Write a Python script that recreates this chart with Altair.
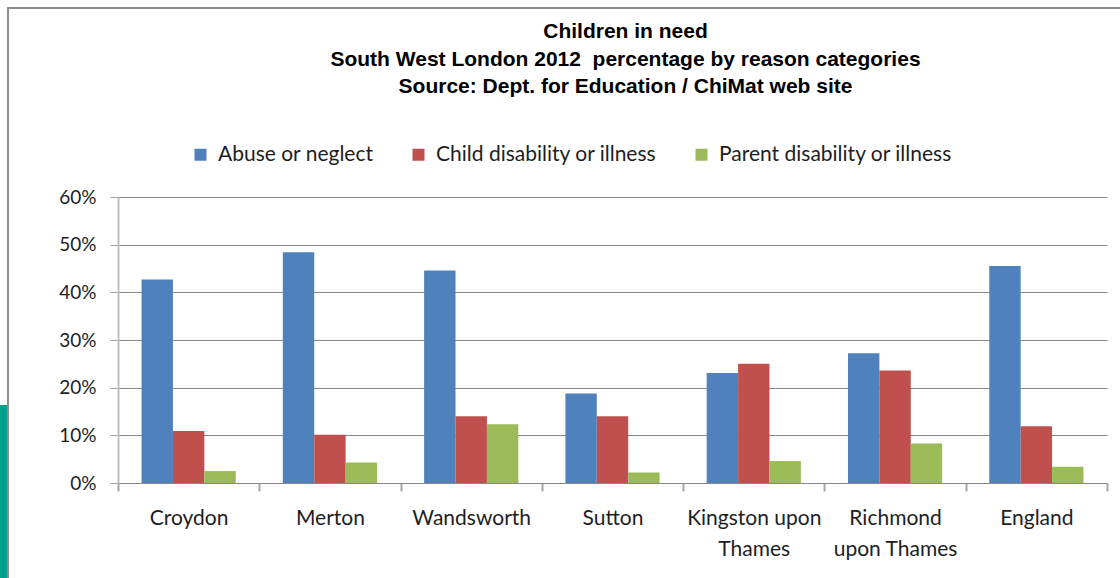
import altair as alt
import pandas as pd

# Children in need, South West London 2012: share of cases by reason category
areas = ["Croydon", "Merton", "Wandsworth", "Sutton",
         "Kingston upon Thames", "Richmond upon Thames", "England"]
reasons = ["Abuse or neglect", "Child disability or illness",
           "Parent disability or illness"]
abuse_or_neglect = [0.427, 0.484, 0.446, 0.188, 0.231, 0.272, 0.455]
child_disability = [0.109, 0.101, 0.140, 0.140, 0.250, 0.236, 0.119]
parent_disability = [0.025, 0.043, 0.123, 0.022, 0.046, 0.083, 0.034]
reason_colors = ["#4F81BD", "#C0504D", "#9BBB59"]
pct_ticks = [0.0, 0.1, 0.2, 0.3, 0.4, 0.5, 0.6]

# two-line axis labels for the long area names
wrapped = {
    "Kingston upon Thames": ["Kingston upon", "Thames"],
    "Richmond upon Thames": ["Richmond", "upon Thames"],
}

rows = []
for series, values in zip(reasons, [abuse_or_neglect, child_disability, parent_disability]):
    for area, v in zip(areas, values):
        rows.append({"area": area, "reason": series, "share": v})
df = pd.DataFrame(rows)

label_expr = "datum.label"
for name, lines in wrapped.items():
    arr = "[" + ", ".join("'" + s + "'" for s in lines) + "]"
    label_expr = f"datum.label == '{name}' ? {arr} : ({label_expr})"

W, H = 989, 286
PAD_L, PAD_T = 118, 197

bars = alt.Chart(df).mark_bar().encode(
    x=alt.X("area:N", sort=areas,
            scale=alt.Scale(paddingInner=0, paddingOuter=0),
            axis=alt.Axis(title=None, labelAngle=0, tickBand="extent",
                          tickSize=8, tickColor="#a6a6a6", tickWidth=2,
                          domainColor="#878787", domainWidth=1,
                          labelFont="Lato", labelFontSize=21,
                          labelColor="#1e1e1e", labelLineHeight=31,
                          labelPadding=16, labelExpr=label_expr)),
    xOffset=alt.XOffset("reason:N", sort=reasons,
                        scale=alt.Scale(paddingInner=0, paddingOuter=0.75)),
    y=alt.Y("share:Q",
            scale=alt.Scale(domain=[0, 0.6], nice=False),
            axis=alt.Axis(title=None, values=pct_ticks, format=".0%",
                          labelFont="Lato", labelFontSize=19,
                          labelColor="#1e1e1e", labelPadding=14,
                          tickSize=8, tickColor="#a0a0a0",
                          domainColor="#bfbfbf", domainWidth=2,
                          gridColor="#878787", gridWidth=1)),
    color=alt.Color("reason:N", sort=reasons,
                    scale=alt.Scale(domain=reasons, range=reason_colors),
                    legend=alt.Legend(title=None, orient="none",
                                      direction="horizontal",
                                      legendX=72, legendY=-53,
                                      symbolType="square", symbolSize=144,
                                      symbolStrokeWidth=0,
                                      labelFont="Lato", labelFontSize=21,
                                      labelColor="#1e1e1e", labelOffset=7,
                                      labelLimit=500, columnPadding=34)),
)

# outer frame and the teal strip at the left edge
frame = alt.Chart(pd.DataFrame({"k": [0]})).mark_rect(
    fill=None, stroke="#8c8c8c", strokeWidth=2
).encode(x=alt.value(8 - PAD_L), x2=alt.value(1140 - PAD_L),
         y=alt.value(8 - PAD_T), y2=alt.value(600 - PAD_T))

strip = alt.Chart(pd.DataFrame({"k": [0]})).mark_rect(
    fill="#00A08A"
).encode(x=alt.value(-PAD_L), x2=alt.value(7 - PAD_L),
         y=alt.value(405 - PAD_T), y2=alt.value(600 - PAD_T))

# the frame sits above the title, so the title is pulled back down past it
chart = alt.layer(strip, frame, bars).properties(
    width=W, height=H,
    title=alt.Title(
        ["Children in need",
         "South West London 2012\u00a0 percentage by reason categories",
         "Source: Dept. for Education / ChiMat web site"],
        font="Liberation Sans", fontSize=21, fontWeight="bold",
        lineHeight=27.5, color="#000000", anchor="middle", dx=13, offset=-90),
    autosize=alt.AutoSizeParams(type="none"),
    padding={"left": PAD_L, "top": PAD_T, "right": 1120 - PAD_L - W,
             "bottom": 578 - PAD_T - H},
    background="white",
).configure_view(stroke=None)

chart.save("out.html", embed_options={"renderer": "svg", "actions": False})
